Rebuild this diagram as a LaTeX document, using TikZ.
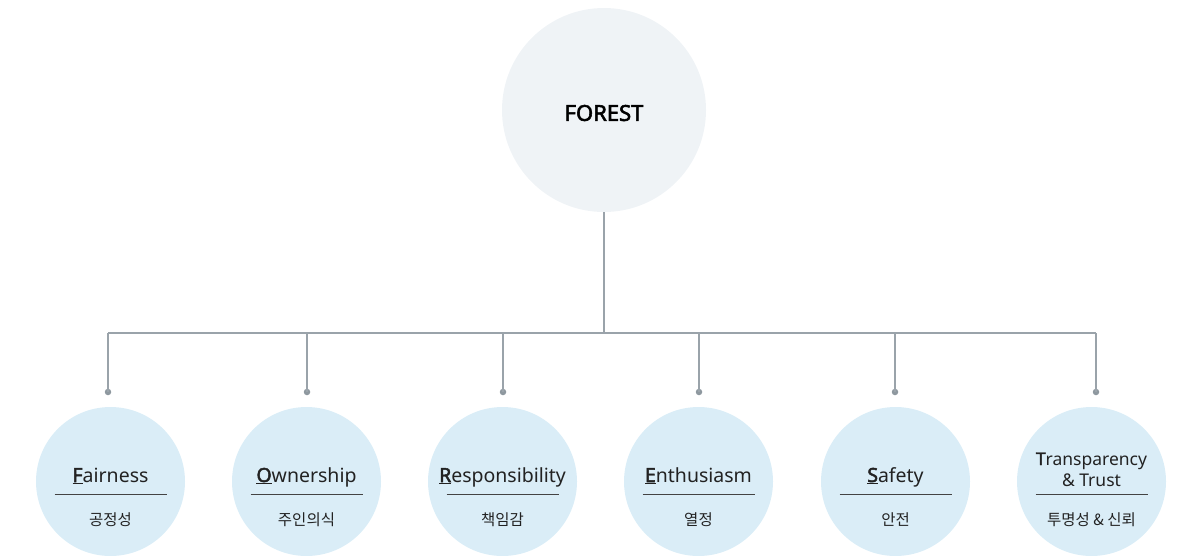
\documentclass[tikz,border=0pt]{standalone}
\usepackage{fontspec}
\setmainfont{Noto Sans}
\newfontfamily\bfn{Noto Sans}[FakeBold=2.5]
\newfontfamily\kr{Noto Sans CJK KR}
\definecolor{topfill}{HTML}{EFF3F6}
\definecolor{subfill}{HTML}{DAEDF7}
\definecolor{linegray}{HTML}{9AA3AA}
\definecolor{dotgray}{HTML}{8E989F}
\definecolor{txt}{HTML}{222222}
\newcommand{\ul}[1]{\underline{{\bfn #1}}}
\begin{document}
\begin{tikzpicture}[x=1pt,y=-1pt,
  topcircle/.style={circle,fill=topfill,minimum size=204pt,inner sep=0pt},
  subcircle/.style={circle,fill=subfill,minimum size=149pt,inner sep=0pt},
  conn/.style={draw=linegray,line width=1.2pt},
  dotnode/.style={circle,fill=dotgray,minimum size=6.5pt,inner sep=0pt},
  entext/.style={font=\fontsize{19.5}{21}\selectfont,text=txt,anchor=base},
  krtext/.style={font=\kr\fontsize{15.5}{17}\selectfont,text=txt},
  sep/.style={draw=txt!85,line width=1pt}]
\useasboundingbox (0,0) rectangle (1194,555);
\node[topcircle] (top) at (604,110) {};
\node[font=\bfn\fontsize{22}{24}\selectfont,text=black] (toplabel) at (604,113) {FOREST};
\coordinate (hub) at (604,333);
\coordinate (hl) at (108,333);
\coordinate (hr) at (1096,333);
\draw[conn] (top.south) -- (hub);
\draw[conn] (hl) -- (hr);
% circles
\foreach \i/\cx/\dx in {1/110.5/108,2/306.5/307,3/502.5/503,4/698.5/699,5/895.5/895,6/1091.5/1096}{
  \node[subcircle] (c\i) at (\cx,481.5) {};
  \coordinate (j\i) at (\dx,333);
  \node[dotnode] (d\i) at (\dx,392) {};
  \draw[conn] (j\i) -- (d\i.center);
  \coordinate (sl\i) at (\cx-56,494.5);
  \coordinate (sr\i) at (\cx+56,494.5);
  \draw[sep] (sl\i) -- (sr\i);
}
\node[entext] (e1) at (110.5,482) {\ul{F}airness};
\node[entext] (e2) at (306.5,482) {\ul{O}wnership};
\node[entext] (e3) at (502.5,482) {\ul{R}esponsibility};
\node[entext] (e4) at (698.5,482) {\ul{E}nthusiasm};
\node[entext] (e5) at (895.5,482) {\ul{S}afety};
\node[text=txt,font=\fontsize{17.5}{21}\selectfont,align=center,anchor=base] (e6) at (1091.5,486) {{\bfn T}ransparency\\\& Trust};
\node[krtext] (k1) at (110.5,520) {공정성};
\node[krtext] (k2) at (306.5,520) {주인의식};
\node[krtext] (k3) at (502.5,520) {책임감};
\node[krtext] (k4) at (698.5,520) {열정};
\node[krtext] (k5) at (895.5,520) {안전};
\node[krtext] (k6) at (1091.5,520) {투명성 \& 신뢰};
\end{tikzpicture}
\end{document}
